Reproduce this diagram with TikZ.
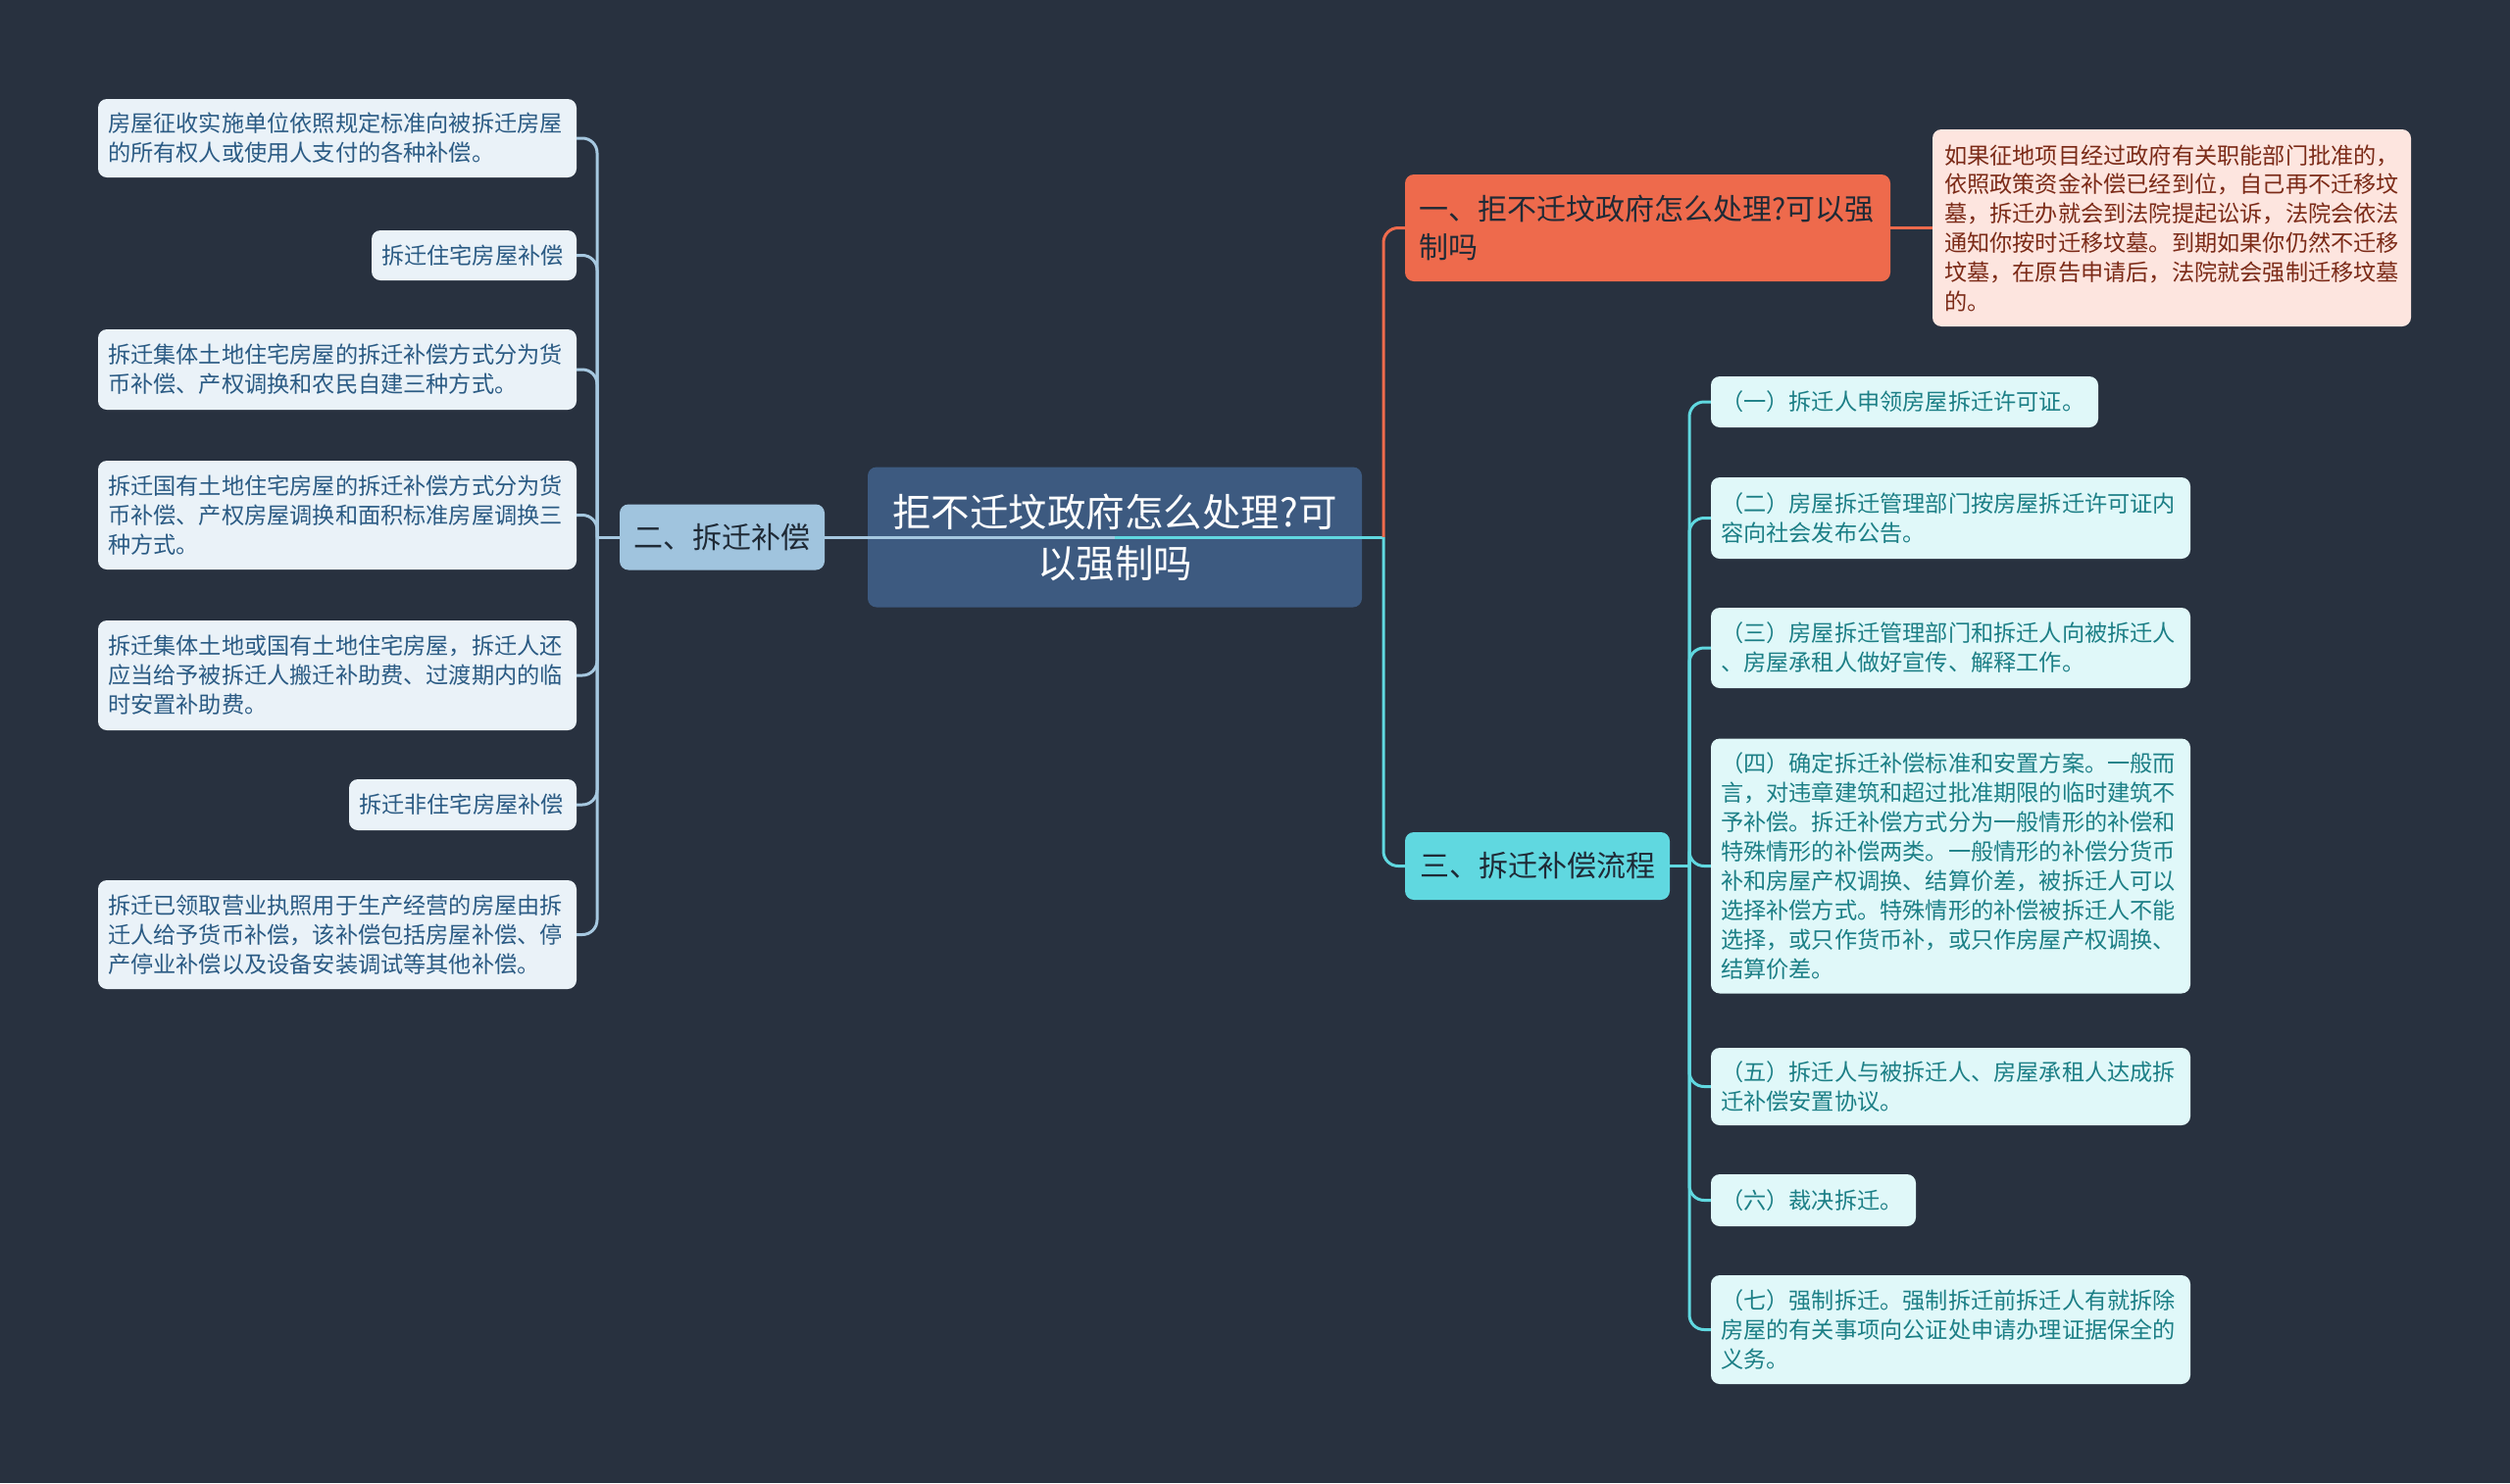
\documentclass[tikz,border=0pt]{standalone}
\usepackage{fontspec}
\setmainfont{Noto Sans CJK SC}
\usepackage{tikz}

\definecolor{bgcol}{HTML}{28313F}
\definecolor{rootfill}{HTML}{3D5A80}
\definecolor{orangefill}{HTML}{EE6A4C}
\definecolor{orangeleaf}{HTML}{FDE5DF}
\definecolor{orangetext}{HTML}{7B2A17}
\definecolor{bluefill}{HTML}{A0C4DE}
\definecolor{blueleaf}{HTML}{EAF2F8}
\definecolor{bluetext}{HTML}{2B5B84}
\definecolor{blueline}{HTML}{A6C8E0}
\definecolor{cyanfill}{HTML}{60D8E0}
\definecolor{cyanleaf}{HTML}{E0F8F9}
\definecolor{cyantext}{HTML}{1C7F86}
\definecolor{darktext}{HTML}{1F2A36}

\tikzset{
  rootbox/.style={fill=rootfill, text=white, rounded corners=9pt, align=center,
    font=\fontsize{39.5}{52}\selectfont, inner sep=0pt},
  branchbox/.style={rounded corners=9pt, text=darktext, inner xsep=12pt, inner ysep=0pt,
    font=\fontsize{30}{39}\selectfont},
  leafbox/.style={rounded corners=9pt, align=left, inner xsep=10pt, inner ysep=0pt,
    font=\fontsize{23.2}{30}\selectfont},
  leafL/.style={leafbox, fill=blueleaf, text=bluetext},
  leafR/.style={leafbox, fill=cyanleaf, text=cyantext},
  link/.style={line width=3pt, rounded corners=15pt}
}

\begin{document}
\begin{tikzpicture}[x=1pt, y=-1pt]

	\fill[bgcol] (0,0) rectangle (2560,1513);
	\useasboundingbox (0,0) rectangle (2560,1513);

	% centre and the three branches
	\node[rootbox, minimum width=504pt, minimum height=143pt] (root) at (1137, 548) {拒不迁坟政府怎么处理?可\\以强制吗};
	\node[branchbox, fill=orangefill, text=darktext, align=left, text width=467pt, minimum height=109pt, inner xsep=14pt] (one) at (1680.5, 232.5) {一、拒不迁坟政府怎么处理?可以强\\制吗};
	\node[branchbox, fill=bluefill, minimum width=209pt, minimum height=67pt] (two) at (736.5, 548) {二、拆迁补偿};
	\node[branchbox, fill=cyanfill, minimum width=270pt, minimum height=69pt] (three) at (1568, 883.5) {三、拆迁补偿流程};

	% branch one
	\node[leafbox, fill=orangeleaf, text=orangetext, font=\fontsize{23.2}{29.8}\selectfont, inner xsep=12pt, text width=464pt, minimum height=201pt] (oneA) at (2215, 232.5) {如果征地项目经过政府有关职能部门批准的，\\依照政策资金补偿已经到位，自己再不迁移坟\\墓，拆迁办就会到法院提起讼诉，法院会依法\\通知你按时迁移坟墓。到期如果你仍然不迁移\\坟墓，在原告申请后，法院就会强制迁移坟墓\\的。};

	% branch two
	\node[leafL, text width=468pt, minimum height=80pt] (twoA) at (344, 141) {房屋征收实施单位依照规定标准向被拆迁房屋\\的所有权人或使用人支付的各种补偿。};
	\node[leafL, text width=189pt, minimum height=51pt] (twoB) at (483.5, 260.5) {拆迁住宅房屋补偿};
	\node[leafL, text width=468pt, minimum height=82pt] (twoC) at (344, 377) {拆迁集体土地住宅房屋的拆迁补偿方式分为货\\币补偿、产权调换和农民自建三种方式。};
	\node[leafL, text width=468pt, minimum height=111pt] (twoD) at (344, 525.5) {拆迁国有土地住宅房屋的拆迁补偿方式分为货\\币补偿、产权房屋调换和面积标准房屋调换三\\种方式。};
	\node[leafL, text width=468pt, minimum height=112pt] (twoE) at (344, 689) {拆迁集体土地或国有土地住宅房屋，拆迁人还\\应当给予被拆迁人搬迁补助费、过渡期内的临\\时安置补助费。};
	\node[leafL, text width=212pt, minimum height=52pt] (twoF) at (472, 821) {拆迁非住宅房屋补偿};
	\node[leafL, text width=468pt, minimum height=111pt] (twoG) at (344, 953.5) {拆迁已领取营业执照用于生产经营的房屋由拆\\迁人给予货币补偿，该补偿包括房屋补偿、停\\产停业补偿以及设备安装调试等其他补偿。};

	% branch three
	\node[leafR, text width=375pt, minimum height=52pt] (threeA) at (1942.5, 410) {（一）拆迁人申领房屋拆迁许可证。};
	\node[leafR, text width=469pt, minimum height=83pt] (threeB) at (1989.5, 528.5) {（二）房屋拆迁管理部门按房屋拆迁许可证内\\容向社会发布公告。};
	\node[leafR, text width=469pt, minimum height=82pt] (threeC) at (1989.5, 661) {（三）房屋拆迁管理部门和拆迁人向被拆迁人\\、房屋承租人做好宣传、解释工作。};
	\node[leafR, text width=469pt, minimum height=260pt] (threeD) at (1989.5, 883.5) {（四）确定拆迁补偿标准和安置方案。一般而\\言，对违章建筑和超过批准期限的临时建筑不\\予补偿。拆迁补偿方式分为一般情形的补偿和\\特殊情形的补偿两类。一般情形的补偿分货币\\补和房屋产权调换、结算价差，被拆迁人可以\\选择补偿方式。特殊情形的补偿被拆迁人不能\\选择，或只作货币补，或只作房屋产权调换、\\结算价差。};
	\node[leafR, text width=469pt, minimum height=79pt] (threeE) at (1989.5, 1108.5) {（五）拆迁人与被拆迁人、房屋承租人达成拆\\迁补偿安置协议。};
	\node[leafR, text width=189pt, minimum height=53pt] (threeF) at (1849.5, 1224.5) {（六）裁决拆迁。};
	\node[leafR, text width=469pt, minimum height=111pt] (threeG) at (1989.5, 1356.5) {（七）强制拆迁。强制拆迁前拆迁人有就拆除\\房屋的有关事项向公证处申请办理证据保全的\\义务。};

	% connectors
	\coordinate (lbus) at (609, 548);
	\coordinate (rbus) at (1411, 548);
	\coordinate (cbus) at (1723, 883.5);

	\draw[link, blueline] (root.center) -- (two.east);
	\draw[link, cyanfill] (root.center) -- (rbus);
	\draw[link, orangefill] (rbus) |- (one.west);
	\draw[link, cyanfill] (rbus) |- (three.west);
	\draw[link, orangefill] (one.east) -- (oneA.west);

	\draw[link, blueline] (two.west) -- (lbus);
	\foreach \leaf in {twoA, twoB, twoC, twoD, twoE, twoF, twoG}
		\draw[link, blueline] (lbus) |- (\leaf.east);

	\draw[link, cyanfill] (three.east) -- (cbus);
	\foreach \leaf in {threeA, threeB, threeC, threeD, threeE, threeF, threeG}
		\draw[link, cyanfill] (cbus) |- (\leaf.west);

\end{tikzpicture}
\end{document}
